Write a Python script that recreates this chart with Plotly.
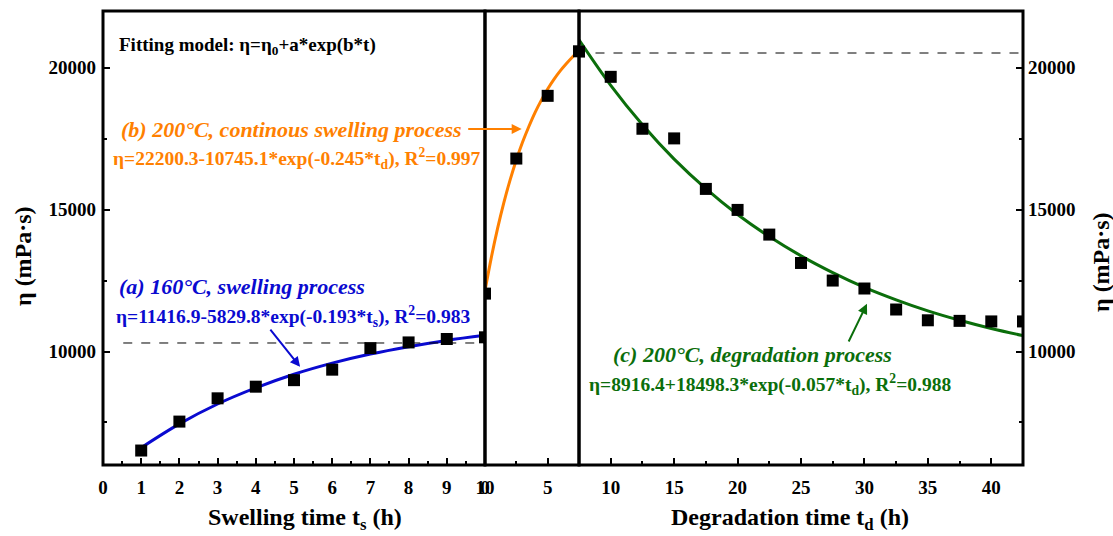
import plotly.graph_objects as go

# ---------------- data ----------------
# (a) 160 °C swelling process
ts_points = [1, 2, 3, 4, 5, 6, 7, 8, 9, 10]
eta_a_points = [6510, 7530, 8350, 8760, 8990, 9360, 10120, 10320, 10440, 10500]
ts_fit = [1, 2, 3, 4, 5, 6, 7, 8, 9, 10]
eta_a_fit = [6610, 7450, 8150, 8720, 9200, 9590, 9910, 10170, 10390, 10570]

# (b) 200 °C continuous swelling process
tb_points = [0, 2.5, 5, 7.5]
eta_b_points = [12040, 16800, 19010, 20580]
tb_fit = [0, 0.5, 1, 1.5, 2, 2.5, 3, 3.5, 4, 4.5, 5, 5.5, 6, 6.5, 7, 7.5]
eta_b_fit = [12140, 13300, 14330, 15240, 16040, 16750, 17380, 17930,
             18430, 18860, 19250, 19590, 19890, 20150, 20390, 20600]

# (c) 200 °C degradation process
td_points = [7.5, 10, 12.5, 15, 17.5, 20, 22.5, 25, 27.5, 30, 32.5, 35, 37.5, 40, 42.5]
eta_c_points = [20570, 19680, 17850, 17510, 15730, 14990, 14120, 13120,
                12500, 12220, 11480, 11100, 11080, 11060, 11060]
td_fit = [7.5, 10, 12.5, 15, 17.5, 20, 22.5, 25, 27.5, 30, 32.5, 35, 37.5, 40, 42.5]
eta_c_fit = [20980, 19380, 17990, 16780, 15740, 14830, 14050, 13370,
             12780, 12260, 11820, 11430, 11100, 10810, 10560]

# reference (dashed) levels
level_a = 10300
level_c = 20520

# axis ticks
y_ticks = [10000, 15000, 20000]
xa_ticks = list(range(0, 11))
xb_ticks = [0, 5]
xc_ticks = [10, 15, 20, 25, 30, 35, 40]

# ---------------- styling ----------------
FONT = "Liberation Serif"
BLUE = "#0a0ad0"
ORANGE = "#ff8000"
GREEN = "#0b6e0b"
d1 = 0.4152
d2 = 0.5174

fig = go.Figure()

def add_curve(x, y, color, xa):
    fig.add_trace(go.Scatter(x=x, y=y, mode="lines", line=dict(color=color, width=3, shape="spline"),
                             xaxis=xa, yaxis="y", showlegend=False, hoverinfo="skip"))

def add_points(x, y, xa):
    fig.add_trace(go.Scatter(x=x, y=y, mode="markers",
                             marker=dict(symbol="square", size=12, color="black"),
                             xaxis=xa, yaxis="y", showlegend=False))

add_curve(ts_fit, eta_a_fit, BLUE, "x")
add_points(ts_points, eta_a_points, "x")
add_curve(tb_fit, eta_b_fit, ORANGE, "x2")
add_points(tb_points, eta_b_points, "x2")
add_curve(td_fit, eta_c_fit, GREEN, "x3")
add_points(td_points, eta_c_points, "x3")
# invisible trace for right y axis
fig.add_trace(go.Scatter(x=[td_points[0]], y=[eta_c_points[0]], mode="markers", marker=dict(opacity=0),
                         xaxis="x3", yaxis="y2", showlegend=False, hoverinfo="skip"))

tickfont = dict(family=FONT, size=19, color="black", weight="bold")
common_x = dict(ticks="inside", ticklen=7, tickwidth=2, tickcolor="black", showgrid=False,
                zeroline=False, showline=False, tickfont=tickfont, ticklabelstandoff=9,
                automargin=False)
common_y = dict(range=[6000, 22000], tickvals=y_ticks, tickformat="d",
                ticks="inside", ticklen=7, tickwidth=2, tickcolor="black", showgrid=False,
                zeroline=False, showline=False, tickfont=tickfont, automargin=False,
                minor=dict(tickvals=[7500, 12500, 17500], ticks="inside", ticklen=4, tickwidth=2,
                           tickcolor="black"))

fig.update_layout(
    width=1113, height=536,
    margin=dict(l=103, r=90, t=11, b=71),
    paper_bgcolor="white", plot_bgcolor="white",
    showlegend=False,
    xaxis=dict(domain=[0, d1], range=[0, 10], tickvals=xa_ticks, anchor="y",
               minor=dict(tickvals=[i + 0.5 for i in range(10)], ticks="inside", ticklen=4, tickwidth=2,
                          tickcolor="black"), **common_x),
    xaxis2=dict(domain=[d1, d2], range=[0, 7.5], tickvals=xb_ticks, anchor="y",
                minor=dict(tickvals=[2.5], ticks="inside", ticklen=4, tickwidth=2, tickcolor="black"),
                **common_x),
    xaxis3=dict(domain=[d2, 1], range=[7.5, 42.5], tickvals=xc_ticks, anchor="y",
                minor=dict(tickvals=[12.5, 17.5, 22.5, 27.5, 32.5, 37.5], ticks="inside", ticklen=4,
                           tickwidth=2, tickcolor="black"),
                **common_x),
    yaxis=dict(anchor="x", side="left", ticklabelstandoff=6, **common_y),
    yaxis2=dict(anchor="x3", side="right", overlaying="y", ticklabelstandoff=4, **common_y),
)

# panel frames
for a, b in [(0, d1), (d1, d2), (d2, 1)]:
    fig.add_shape(type="rect", xref="paper", yref="paper", x0=a, x1=b, y0=0, y1=1,
                  line=dict(color="black", width=3), layer="above")

# dashed levels
fig.add_shape(type="line", xref="x", yref="y", x0=0.53, x1=10, y0=level_a, y1=level_a,
              line=dict(color="black", width=1, dash="dash"))
fig.add_shape(type="line", xref="x3", yref="y", x0=8.8, x1=42.5, y0=level_c, y1=level_c,
              line=dict(color="black", width=1, dash="dash"))

def ann(text, x, y, xref, color, size, xanchor="left"):
    fig.add_annotation(text=text, x=x, y=y, xref=xref, yref="y", showarrow=False,
                       xanchor=xanchor, yanchor="middle",
                       font=dict(family=FONT, size=size, color=color))

ann("<b>Fitting model: η=η<sub>0</sub>+a*exp(b*t)</b>", 0.37, 20760, "x", "black", 19)
ann("<b><i>(b) 200°C, continous swelling process</i></b>", 0.43, 17840, "x", ORANGE, 22)
ann("<b>η=22200.3-10745.1*exp(-0.245*t<sub>d</sub>), R<sup>2</sup>=0.997</b>", 0.22, 16790, "x", ORANGE, 19.5)
ann("<b><i>(a) 160°C, swelling process</i></b>", 0.37, 12290, "x", BLUE, 22)
ann("<b>η=11416.9-5829.8*exp(-0.193*t<sub>s</sub>), R<sup>2</sup>=0.983</b>", 0.30, 11230, "x", BLUE, 19.5)
ann("<b><i>(c) 200°C, degradation process</i></b>", 10.0, 9880, "x3", GREEN, 22)
ann("<b>η=8916.4+18498.3*exp(-0.057*t<sub>d</sub>), R<sup>2</sup>=0.988</b>", 8.1, 8820, "x3", GREEN, 19.5)

# arrows
fig.add_annotation(x=2.93, y=17840, xref="x2", yref="y", ax=-55, ay=0, axref="pixel", ayref="pixel",
                   text="", showarrow=True, arrowhead=2, arrowsize=1, arrowwidth=2, arrowcolor=ORANGE)
fig.add_annotation(x=5.16, y=9460, xref="x", yref="y", ax=4.35, ay=10820, axref="x", ayref="y",
                   text="", showarrow=True, arrowhead=2, arrowsize=1, arrowwidth=2, arrowcolor=BLUE)
fig.add_annotation(x=30.2, y=11680, xref="x3", yref="y", ax=28.7, ay=10300, axref="x3", ayref="y",
                   text="", showarrow=True, arrowhead=2, arrowsize=1, arrowwidth=2, arrowcolor=GREEN)

# axis titles
title_font = dict(family=FONT, size=24, color="black")
fig.add_annotation(text="<b>Swelling time t<sub>s</sub> (h)</b>", xref="paper", yref="paper",
                   x=(305 - 103) / 920, y=-(519 - 465) / 454, showarrow=False,
                   xanchor="center", yanchor="middle", font=title_font)
fig.add_annotation(text="<b>Degradation time t<sub>d</sub> (h)</b>", xref="paper", yref="paper",
                   x=(790 - 103) / 920, y=-(519 - 465) / 454, showarrow=False,
                   xanchor="center", yanchor="middle", font=title_font)
fig.add_annotation(text="<b>η (mPa·s)</b>", xref="paper", yref="paper",
                   x=(23 - 103) / 920, y=(465 - 256) / 454, showarrow=False, textangle=-90,
                   xanchor="center", yanchor="middle", font=title_font)
fig.add_annotation(text="<b>η (mPa·s)</b>", xref="paper", yref="paper",
                   x=(1101 - 103) / 920, y=(465 - 262) / 454, showarrow=False, textangle=-90,
                   xanchor="center", yanchor="middle", font=title_font)

fig.write_html("out.html", config={"displayModeBar": False},
               post_script="document.body.style.margin='0';document.body.style.overflow='hidden';")
